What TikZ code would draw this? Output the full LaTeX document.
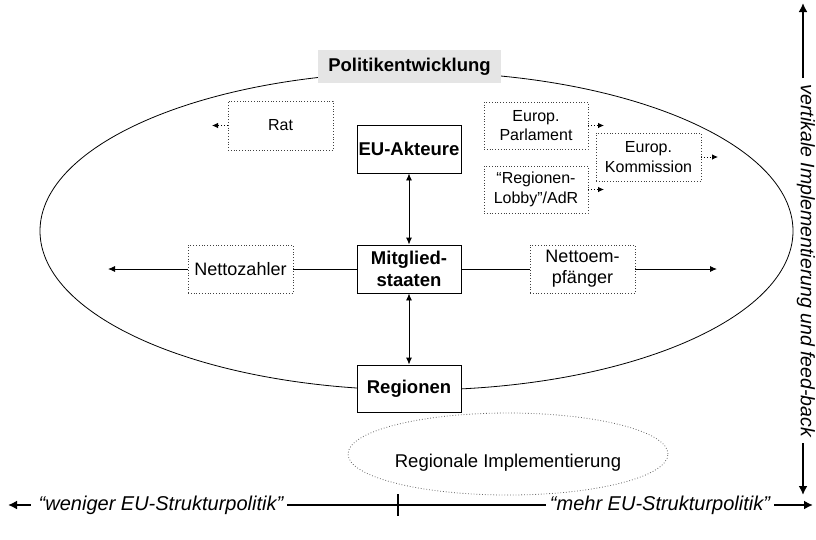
\documentclass[tikz,border=0pt]{standalone}
\usepackage{fontspec}
\setmainfont{Liberation Sans}
\usetikzlibrary{arrows.meta,shapes.geometric}
\begin{document}
\begin{tikzpicture}[x=1pt,y=-1pt,
  solidbox/.style={draw, line width=0.9pt, fill=white, minimum width=104pt, minimum height=48pt, inner sep=0pt, align=center, font=\fontsize{18.5}{21.5}\selectfont\bfseries},
  dotbox/.style={draw=black!75, dotted, line width=0.8pt, fill=white, inner sep=0pt, align=center, minimum width=104pt, minimum height=47pt},
  smallfont/.style={font=\fontsize{16}{19.5}\selectfont},
  midfont/.style={font=\fontsize{18}{21}\selectfont},
  axisfont/.style={font=\fontsize{20}{23}\selectfont\itshape},
  dotarrow/.style={dotted, line width=0.8pt, -{Latex[length=6pt,width=5.5pt]}},
  thinarrow/.style={line width=0.9pt, -{Latex[length=7pt,width=6pt]}},
  dblarrow/.style={line width=0.9pt, {Latex[length=7pt,width=6pt]}-{Latex[length=7pt,width=6pt]}},
  bigarrow/.style={line width=2.2pt, -{Latex[length=9pt,width=9pt]}},
]
\useasboundingbox (0,0) rectangle (816,539);

% big ellipse
\draw[line width=0.8pt] (416.5,231) ellipse [x radius=376.5pt, y radius=159pt];

% title
\node[fill=black!10, minimum width=183pt, minimum height=33pt, inner sep=0pt,
      font=\fontsize{18.5}{21}\selectfont\bfseries] (pol) at (409.5,66.5) {Politikentwicklung};

% EU actors
\node[dotbox, smallfont, minimum width=105pt, minimum height=49pt] (rat) at (280.5,125.5) {Rat};
\node[dotbox, smallfont] (ep) at (536,125.5) {Europ.\\Parlament};
\node[dotbox, smallfont, minimum width=105pt, minimum height=48pt] (kom) at (648.5,157) {Europ.\\Kommission};
\node[dotbox, smallfont] (lob) at (536,189.5) {“Regionen-\\Lobby”/AdR};

\coordinate (ratend) at (212,125.5);
\coordinate (epend) at (604,125.5);
\coordinate (komend) at (718,157);
\coordinate (lobend) at (604,189.5);
\draw[dotarrow] (rat.west) -- (ratend);
\draw[dotarrow] (ep.east) -- (epend);
\draw[dotarrow] (kom.east) -- (komend);
\draw[dotarrow] (lob.east) -- (lobend);

% central column
\node[solidbox] (eu) at (409,149) {EU-Akteure};
\node[solidbox] (mit) at (409,269) {Mitglied-\\staaten};
\node[solidbox, minimum height=47pt] (reg) at (409,388.5) {Regionen};

\draw[dblarrow] (eu) -- (mit);
\draw[dblarrow] (mit) -- (reg);

% net payers / receivers
\node[dotbox, midfont, minimum width=105pt, minimum height=48pt] (nz) at (240.5,269) {Nettozahler};
\node[dotbox, midfont, minimum width=105pt, minimum height=48pt] (ne) at (582.5,269) {Nettoem-\\pfänger};
\coordinate (nztip) at (108,269);
\coordinate (netip) at (717,269);
\draw[line width=0.9pt] (mit.west) -- (nz.east);
\draw[thinarrow] (nz.west) -- (nztip);
\draw[line width=0.9pt] (mit.east) -- (ne.west);
\draw[thinarrow] (ne.east) -- (netip);

% regional implementation
\node[ellipse, draw=black!60, dotted, line width=0.8pt, minimum width=306pt, minimum height=82pt,
      inner sep=0pt, font=\fontsize{18.5}{21}\selectfont] (ri) at (508,454) {\raisebox{-13pt}[0pt][0pt]{Regionale Implementierung}};

% bottom axis
\node[axisfont, inner sep=4pt] (less) at (161,505) {“weniger EU-Strukturpolitik”};
\node[axisfont, inner sep=4pt] (more) at (660,505) {“mehr EU-Strukturpolitik”};
\coordinate (lesstip) at (8,505);
\coordinate (moretip) at (813,505);
\coordinate (mid) at (398,505);
\draw[bigarrow] ([xshift=-4pt]less.west) -- (lesstip);
\draw[line width=2.2pt] (less.east) -- (more.west);
\draw[line width=2.2pt] (mid) ++(0,-11) -- ++(0,22);
\draw[bigarrow] (more.east) -- (moretip);

% vertical axis
\node[rotate=-90, font=\fontsize{19.5}{22}\selectfont\itshape, inner sep=0pt] (vert) at (806,261) {vertikale Implementierung und feed-back};
\coordinate (vt1) at (803,78);
\coordinate (vt0) at (803,3);
\coordinate (vb1) at (803,443);
\coordinate (vb0) at (803,495);
\draw[bigarrow] (vt1) -- (vt0);
\draw[bigarrow] (vb1) -- (vb0);
\end{tikzpicture}
\end{document}
